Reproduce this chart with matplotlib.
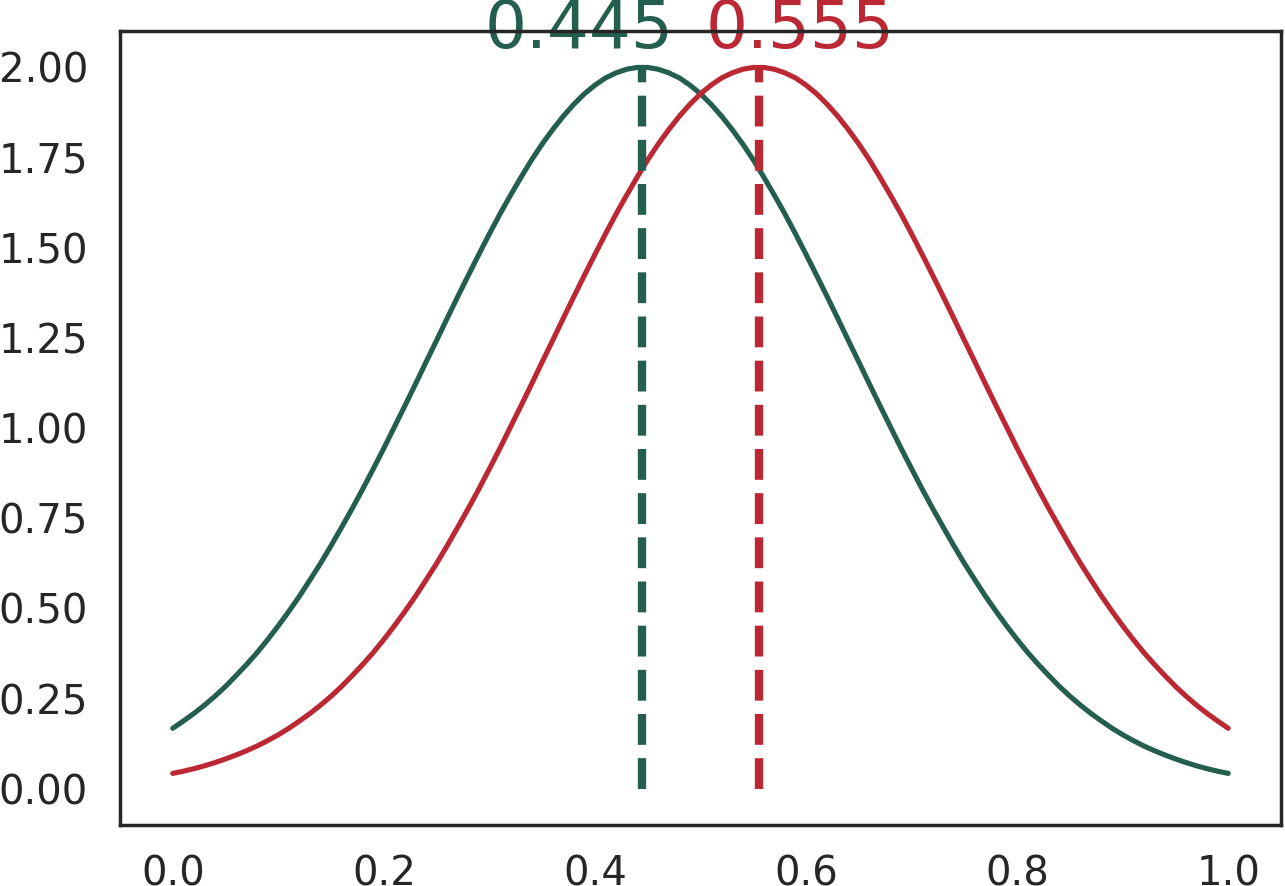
import numpy as np
import matplotlib
matplotlib.use("Agg")
import matplotlib.pyplot as plt

xs = np.round(np.linspace(0.0, 1.0, 101), 2)
green_y = [0.168, 0.188, 0.209, 0.232, 0.257, 0.284, 0.314, 0.345, 0.378, 0.414,
           0.452, 0.492, 0.534, 0.579, 0.625, 0.674, 0.725, 0.777, 0.831, 0.887,
           0.944, 1.003, 1.062, 1.122, 1.183, 1.243, 1.304, 1.364, 1.423, 1.481,
           1.538, 1.593, 1.645, 1.695, 1.743, 1.787, 1.827, 1.864, 1.897, 1.926,
           1.950, 1.970, 1.984, 1.994, 1.999, 1.999, 1.994, 1.984, 1.970, 1.950,
           1.926, 1.897, 1.864, 1.827, 1.787, 1.743, 1.695, 1.645, 1.593, 1.538,
           1.481, 1.423, 1.364, 1.304, 1.243, 1.183, 1.122, 1.062, 1.003, 0.944,
           0.887, 0.831, 0.777, 0.725, 0.674, 0.625, 0.579, 0.534, 0.492, 0.452,
           0.414, 0.378, 0.345, 0.314, 0.284, 0.257, 0.232, 0.209, 0.188, 0.168,
           0.150, 0.134, 0.119, 0.106, 0.094, 0.083, 0.073, 0.064, 0.056, 0.049,
           0.043]
red_y = [0.043, 0.049, 0.056, 0.064, 0.073, 0.083, 0.094, 0.106, 0.119, 0.134,
         0.150, 0.168, 0.188, 0.209, 0.232, 0.257, 0.284, 0.314, 0.345, 0.378,
         0.414, 0.452, 0.492, 0.534, 0.579, 0.625, 0.674, 0.725, 0.777, 0.831,
         0.887, 0.944, 1.003, 1.062, 1.122, 1.183, 1.243, 1.304, 1.364, 1.423,
         1.481, 1.538, 1.593, 1.645, 1.695, 1.743, 1.787, 1.827, 1.864, 1.897,
         1.926, 1.950, 1.970, 1.984, 1.994, 1.999, 1.999, 1.994, 1.984, 1.970,
         1.950, 1.926, 1.897, 1.864, 1.827, 1.787, 1.743, 1.695, 1.645, 1.593,
         1.538, 1.481, 1.423, 1.364, 1.304, 1.243, 1.183, 1.122, 1.062, 1.003,
         0.944, 0.887, 0.831, 0.777, 0.725, 0.674, 0.625, 0.579, 0.534, 0.492,
         0.452, 0.414, 0.378, 0.345, 0.314, 0.284, 0.257, 0.232, 0.209, 0.188,
         0.168]
peaks = [0.445, 0.555]
peak_height = 2.0
peak_labels = ["0.445", "0.555"]

green = "#245E4F"
red = "#BB2834"
dark = "#262626"

fig = plt.figure(figsize=(12.85, 8.86), dpi=100)
ax = fig.add_axes([120 / 1285, 61 / 886, 1161 / 1285, 794 / 886])

ax.plot(xs, green_y, color=green, lw=3.7, solid_capstyle="round", solid_joinstyle="round")
ax.plot(xs, red_y, color=red, lw=3.7, solid_capstyle="round", solid_joinstyle="round")

for p, c in zip(peaks, [green, red]):
	ax.plot([p, p], [0, peak_height], color=c, lw=6, ls="--", dash_capstyle="butt")

ax.text(0.4745, 2.053, peak_labels[0], color=green, fontsize=47.5, ha="right", va="baseline", zorder=1)
ax.text(0.505, 2.053, peak_labels[1], color=red, fontsize=47.5, ha="left", va="baseline", zorder=1)

ax.set_xlim(-0.05, 1.05)
ax.set_ylim(-0.1, 2.1)
ax.set_xticks([0.0, 0.2, 0.4, 0.6, 0.8, 1.0])
ax.set_yticks([0.0, 0.25, 0.5, 0.75, 1.0, 1.25, 1.5, 1.75, 2.0])
ax.set_xticklabels(["0.0", "0.2", "0.4", "0.6", "0.8", "1.0"])
ax.set_yticklabels(["%.2f" % v for v in ax.get_yticks()])
ax.tick_params(length=0, labelsize=29, labelcolor=dark)
ax.tick_params(axis="y", pad=23)
ax.tick_params(axis="x", pad=21)
for s in ax.spines.values():
	s.set_color(dark)
	s.set_linewidth(2.5)

fig.savefig("out.png", dpi=100)
